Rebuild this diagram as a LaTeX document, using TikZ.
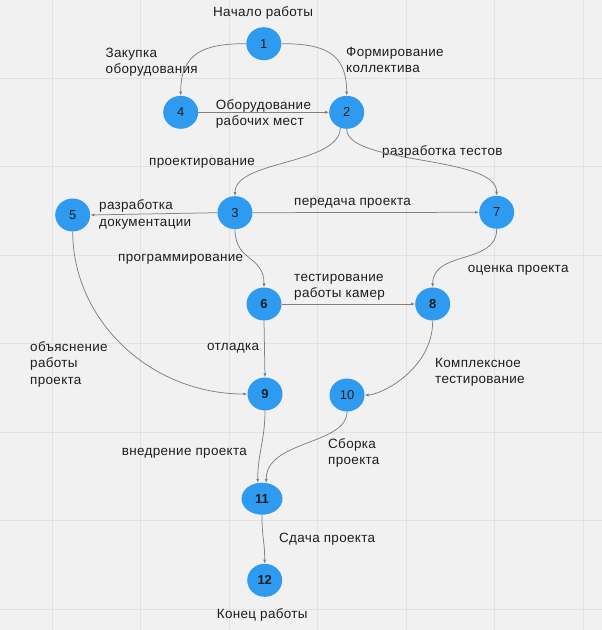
\documentclass[tikz,border=0pt]{standalone}
\usepackage{fontspec}
\setmainfont{Liberation Sans}
\newfontfamily\labfont[LetterSpace=2.5]{Liberation Sans}
\usetikzlibrary{shapes.geometric,arrows.meta}
\definecolor{bgcol}{HTML}{F1F1F1}
\definecolor{gridcol}{HTML}{E2E2E2}
\definecolor{nodeblue}{HTML}{2E9BF0}
\definecolor{edgecol}{HTML}{808080}
\definecolor{txtcol}{HTML}{1E1E1E}
\tikzset{
  ev/.style={ellipse, fill=nodeblue, draw=none, inner sep=0pt, minimum width=35bp, minimum height=33bp, text=txtcol, font=\fontsize{13}{15}\selectfont},
  evb/.style={ev, font=\fontsize{13}{15}\selectfont\bfseries},
  lab/.style={anchor=base west, inner sep=0pt, align=left, text=txtcol, font=\labfont\fontsize{13.5}{16.5}\selectfont},
  con/.style={draw=edgecol, line width=0.75bp, -{Latex[length=4bp,width=3.2bp]}},
}
\begin{document}
\begin{tikzpicture}[x=1bp,y=-1bp]
\useasboundingbox (0,0) rectangle (602,630);
\fill[bgcol] (0,0) rectangle (602,630);
\foreach \gx in {52,140.5,229,317.5,406,494.5,583} \draw[gridcol, line width=0.8bp] (\gx,0) -- (\gx,630);
\foreach \gy in {78,166.5,255,343.5,432,520.5,609} \draw[gridcol, line width=0.8bp] (0,\gy) -- (602,\gy);

% nodes
\node[ev] (n1) at (263.8,43.7) {1};
\node[ev] (n4) at (180.7,112.3) {4};
\node[ev] (n2) at (346.7,112.3) {2};
\node[ev] (n3) at (235,212.7) {3};
\node[ev] (n5) at (72.7,215) {5};
\node[ev] (n7) at (496.7,212.3) {7};
\node[evb] (n6) at (264,304) {6};
\node[evb] (n8) at (432.7,304) {8};
\node[evb] (n9) at (265,394) {9};
\node[ev] (n10) at (347,395) {10};
\node[evb, minimum width=41bp, minimum height=32bp] (n11) at (262,498.7) {11};
\node[evb] (n12) at (264.7,580.3) {12};

% labels (base = last line)
\node[lab] (l0) at (213,16.5) {Начало работы};
\node[lab] (l1) at (105.5,73.5) {Закупка\\оборудования};
\node[lab] (l2) at (346,73) {Формирование\\коллектива};
\node[lab] (l3) at (215.7,125.5) {Оборудование\\рабочих мест};
\node[lab] (l4) at (149,166) {проектирование};
\node[lab] (l5) at (382,156) {разработка тестов};
\node[lab] (l6) at (99,226.3) {разработка\\документации};
\node[lab] (l7) at (294,205.5) {передача проекта};
\node[lab] (l8) at (118,261) {программирование};
\node[lab] (l9) at (294,297.7) {тестирование\\работы камер};
\node[lab] (l10) at (467.7,272.7) {оценка проекта};
\node[lab] (l11) at (30,384) {объяснение\\работы\\проекта};
\node[lab] (l12) at (207,350.7) {отладка};
\node[lab] (l13) at (435,383.7) {Комплексное\\тестирование};
\node[lab] (l14) at (121.7,455.7) {внедрение проекта};
\node[lab] (l15) at (328,464.5) {Сборка\\проекта};
\node[lab] (l16) at (279,542.7) {Сдача проекта};
\node[lab] (l17) at (216.7,618.7) {Конец работы};

% connectors
\draw[con] (n1.west) .. controls (205,43.7) and (180.7,52) .. (n4.north);
\draw[con] (n1.east) .. controls (323,43.7) and (346.7,52) .. (n2.north);
\draw[con] (n4.east) -- (n2.west);
\draw[con] (n2.-112) .. controls (339,165) and (235,160) .. (n3.north);
\draw[con] (n2.south) .. controls (346.7,165) and (496.7,155) .. (n7.north);
\draw[con] (n3.west) -- (n5.east);
\draw[con] (n3.east) -- (n7.west);
\draw[con] (n3.south) .. controls (235,262) and (264,255) .. (n6.north);
\draw[con] (n7.south) .. controls (496.7,265) and (432.7,250) .. (n8.north);
\draw[con] (n6.east) -- (n8.west);
\draw[con] (n6.south) -- (n9.north);
\draw[con] (n5.south) .. controls (72.7,320) and (150,394) .. (n9.west);
\draw[con] (n8.south) .. controls (432.7,370) and (380,395) .. (n10.east);
\draw[con] (n9.south) .. controls (265,440) and (257.5,455) .. (n11.105);
\draw[con] (n10.south) .. controls (347,445) and (266,440) .. (n11.75);
\draw[con] (n11.south) .. controls (262,540) and (264.7,540) .. (n12.north);
\end{tikzpicture}
\end{document}
